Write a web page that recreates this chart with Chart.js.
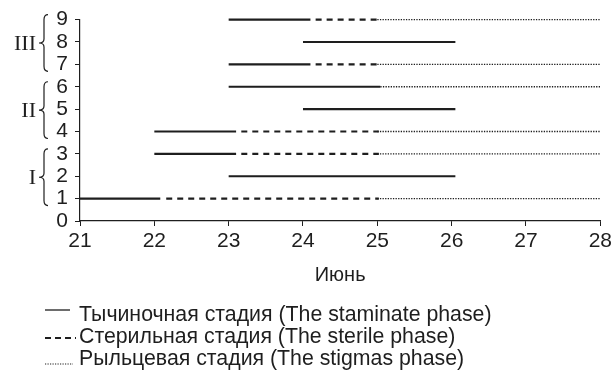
<!DOCTYPE html>
<html>
<head>
<meta charset="utf-8">
<script src="https://cdn.jsdelivr.net/npm/chart.js@4/dist/chart.umd.min.js"></script>
<style>
  html, body { margin: 0; padding: 0; background: #fff; }
  #wrap { width: 615px; height: 372px; position: relative; }
</style>
</head>
<body>
<div id="wrap"><canvas id="c"></canvas></div>
<script>
// Flower rows (1–9) and the June dates of each phase
const rows          = [1, 2, 3, 4, 5, 6, 7, 8, 9];
const solidStart    = [21, 23, 22, 22, 24, 23, 23, 24, 23];
const solidEnd      = [22.08, 26.05, 23.1, 23.1, 26.05, 25.04, 24.1, 26.05, 24.1];
const sterileStart  = [22.16, null, 23.17, 23.17, null, null, 24.17, null, 24.17];
const sterileEnd    = [25.02, null, 25.02, 25.02, null, null, 25.02, null, 25.02];
const stigmaStart   = [25, null, 25, 25, null, 25.04, 25, null, 25];
const stigmaEnd     = [28, null, 28, 28, null, 28, 28, null, 28];

const xTicks = [21, 22, 23, 24, 25, 26, 27, 28];
const yTicks = [0, 1, 2, 3, 4, 5, 6, 7, 8, 9];

// Groups of rows marked with braces
const groupNames = ['I', 'II', 'III'];
const groupFrom  = [1, 4, 7];
const groupTo    = [3, 6, 9];

const legendLabels = [
  'Тычиночная стадия (The staminate phase)',
  'Стерильная стадия (The sterile phase)',
  'Рыльцевая стадия (The stigmas phase)'
];
const axisTitle = 'Июнь';

function segments(starts, ends) {
  const out = [];
  rows.forEach((r, i) => {
    if (starts[i] == null || ends[i] == null) return;
    out.push({ x: starts[i], y: r }, { x: ends[i], y: r }, { x: ends[i], y: null });
  });
  return out;
}

const INK = '#1e1e1e';
const FONT = '"Liberation Sans", Arial, sans-serif';

const phaseStyles = [
  { borderWidth: 2.2, borderDash: [] },
  { borderWidth: 2.2, borderDash: [6, 5] },
  { borderWidth: 1.3, borderDash: [1.3, 1.3] }
];

// Braces and Roman numerals beside the y axis
const bracePlugin = {
  id: 'braces',
  afterDraw(chart) {
    const ctx = chart.ctx, y = chart.scales.y;
    ctx.save();
    ctx.strokeStyle = INK;
    ctx.lineWidth = 1.2;
    groupNames.forEach((name, i) => {
      const top = y.getPixelForValue(groupTo[i]) - 5;
      const bot = y.getPixelForValue(groupFrom[i]) + 7;
      const mid = (top + bot) / 2;
      const xr = 48, xm = 44, xl = 39;
      ctx.beginPath();
      ctx.moveTo(xr, top);
      ctx.quadraticCurveTo(xm, top, xm, top + 5);
      ctx.lineTo(xm, mid - 4);
      ctx.quadraticCurveTo(xm, mid, xl, mid);
      ctx.quadraticCurveTo(xm, mid, xm, mid + 4);
      ctx.lineTo(xm, bot - 5);
      ctx.quadraticCurveTo(xm, bot, xr, bot);
      ctx.stroke();
      ctx.fillStyle = INK;
      ctx.font = '22px "Liberation Serif", "Times New Roman", serif';
      ctx.textAlign = 'right';
      ctx.textBaseline = 'middle';
      ctx.fillText(name, 36, mid + 1);
    });
    ctx.restore();
  }
};

// Legend with line samples under the chart
const legendPlugin = {
  id: 'phaseLegend',
  afterDraw(chart) {
    const ctx = chart.ctx;
    const ys = [315, 337, 359];
    ctx.save();
    ctx.fillStyle = INK;
    ctx.strokeStyle = INK;
    ctx.font = '21.3px ' + FONT;
    ctx.textAlign = 'left';
    ctx.textBaseline = 'middle';
    legendLabels.forEach((label, i) => {
      const yy = ys[i];
      ctx.beginPath();
      if (i === 0) { ctx.lineWidth = 1.3; ctx.setLineDash([]); ctx.moveTo(45, yy - 5); ctx.lineTo(70, yy - 5); }
      if (i === 1) { ctx.lineWidth = 1.8; ctx.setLineDash([6, 4]); ctx.moveTo(45, yy + 1); ctx.lineTo(76, yy + 1); }
      if (i === 2) { ctx.lineWidth = 1.1; ctx.setLineDash([1.2, 1.3]); ctx.moveTo(45, yy + 5); ctx.lineTo(73, yy + 5); }
      ctx.stroke();
      ctx.setLineDash([]);
      ctx.fillText(label, 79, yy);
    });
    ctx.restore();
  }
};

new Chart(document.getElementById('c'), {
  type: 'line',
  data: {
    datasets: [
      { label: legendLabels[0], data: segments(solidStart, solidEnd) },
      { label: legendLabels[1], data: segments(sterileStart, sterileEnd) },
      { label: legendLabels[2], data: segments(stigmaStart, stigmaEnd) }
    ].map((d, i) => Object.assign(d, phaseStyles[i], {
      borderColor: INK, pointRadius: 0, spanGaps: false, tension: 0, fill: false,
      borderCapStyle: 'butt', clip: false
    }))
  },
  options: {
    responsive: true,
    maintainAspectRatio: false,
    animation: false,
    layout: { padding: { left: 0, right: 13, top: 19, bottom: 81 } },
    plugins: { legend: { display: false }, tooltip: { enabled: false } },
    scales: {
      x: {
        type: 'linear',
        min: 21, max: 28,
        afterBuildTicks: s => { s.ticks = xTicks.map(v => ({ value: v })); },
        afterFit: s => { s.height = 70; },
        ticks: { color: INK, font: { family: FONT, size: 21 }, padding: 3, maxRotation: 0, autoSkip: false },
        grid: { drawOnChartArea: false, drawTicks: true, tickLength: 5, color: INK, lineWidth: 1 },
        border: { display: true, color: INK, width: 1.2 },
        title: { display: true, text: axisTitle, color: INK, font: { family: FONT, size: 20 }, padding: { top: 2 } }
      },
      y: {
        type: 'linear',
        min: 0, max: 9,
        afterBuildTicks: s => { s.ticks = yTicks.map(v => ({ value: v })); },
        afterFit: s => { s.width = 80; },
        ticks: { color: INK, font: { family: FONT, size: 21 }, padding: 7, autoSkip: false },
        grid: { drawOnChartArea: false, drawTicks: true, tickLength: 5, color: INK, lineWidth: 1 },
        border: { display: true, color: INK, width: 1.2 }
      }
    }
  },
  plugins: [bracePlugin, legendPlugin]
});
</script>
</body>
</html>
